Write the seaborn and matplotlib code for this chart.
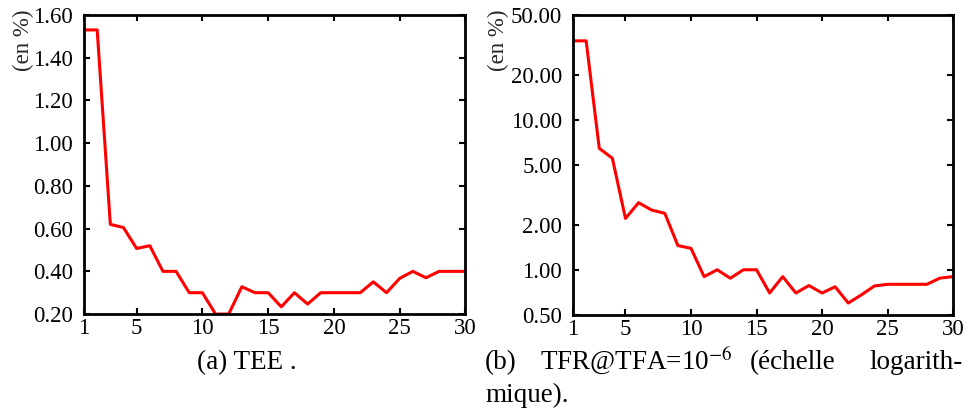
import numpy as np
import pandas as pd
import matplotlib
matplotlib.use("Agg")
import matplotlib.pyplot as plt
import matplotlib.ticker as mticker
import seaborn as sns

# ---- data ----
n_vals = list(range(1, 31))
tee = [1.53, 1.53, 0.62, 0.605, 0.507, 0.52, 0.40, 0.40, 0.30, 0.30,
       0.20, 0.20, 0.328, 0.30, 0.30, 0.234, 0.30, 0.247, 0.30, 0.30,
       0.30, 0.30, 0.351, 0.30, 0.367, 0.40, 0.37, 0.40, 0.40, 0.40]
tfr = [33.6, 33.6, 6.45, 5.54, 2.2, 2.8, 2.5, 2.38, 1.45, 1.39,
       0.90, 1.0, 0.878, 1.0, 1.0, 0.70, 0.90, 0.70, 0.785, 0.70,
       0.77, 0.60, 0.68, 0.78, 0.80, 0.80, 0.80, 0.80, 0.88, 0.90]

x_ticks = [1, 5, 10, 15, 20, 25, 30]
tee_ticks = [0.2, 0.4, 0.6, 0.8, 1.0, 1.2, 1.4, 1.6]
tfr_ticks = [0.5, 1, 2, 5, 10, 20, 50]

df = pd.DataFrame({"n": n_vals, "tee": tee, "tfr": tfr})

sns.set_style("ticks")
plt.rcParams["font.family"] = ["Liberation Serif", "DejaVu Serif"]
plt.rcParams["mathtext.fontset"] = "stix"

fig = plt.figure(figsize=(9.68, 4.16), dpi=100)
ax1 = fig.add_axes([0.0868, 0.245, 0.394, 0.719])
ax2 = fig.add_axes([0.592, 0.243, 0.3926, 0.721])


def style_axis(ax, label_x):
    for s in ax.spines.values():
        s.set_linewidth(2.0)
        s.set_color("black")
    ax.tick_params(which="major", direction="in", length=4, width=1.5,
                   top=True, right=True, labelsize=16.5, colors="black")
    ax.tick_params(axis="y", pad=8)
    ax.tick_params(axis="x", pad=3)
    ax.tick_params(which="minor", length=0)
    ax.set_xlim(1, 30)
    ax.set_xticks(x_ticks)
    ax.set_xlabel("")
    ax.set_ylabel("(en %)", fontsize=16.5, loc="top")
    ax.yaxis.label.set_va("center")
    ax.yaxis.set_label_coords(label_x, 1.017)


sns.lineplot(data=df, x="n", y="tee", ax=ax1, color="#ff0000", linewidth=2.2)
style_axis(ax1, -0.16)
ax1.set_ylim(0.2, 1.6)
ax1.set_yticks(tee_ticks)
ax1.yaxis.set_major_formatter(mticker.FormatStrFormatter("%.2f"))

sns.lineplot(data=df, x="n", y="tfr", ax=ax2, color="#ff0000", linewidth=2.2)
ax2.set_yscale("log")
style_axis(ax2, -0.197)
ax2.set_ylim(0.5, 50)
ax2.set_yticks(tfr_ticks)
ax2.yaxis.set_major_formatter(mticker.FormatStrFormatter("%.2f"))
ax2.yaxis.set_minor_locator(mticker.NullLocator())

# captions (justified text in the reference, words placed where they sit)
W, H = 968, 416
cap = dict(fontsize=19.5, va="baseline", color="black")
line1 = 1 - 369 / H
line2 = 1 - 402 / H
fig.text(247 / W, line1, "(a) TEE .", ha="center", **cap)
fig.text(485 / W, line1, "(b)", ha="left", **cap)
fig.text(540 / W, line1, r"TFR@TFA=10$^{-6}$", ha="left", **cap)
fig.text(750 / W, line1, "(échelle", ha="left", **cap)
fig.text(963 / W, line1, "logarith-", ha="right", **cap)
fig.text(485 / W, line2, "mique).", ha="left", **cap)

fig.savefig("out.png", dpi=100)
